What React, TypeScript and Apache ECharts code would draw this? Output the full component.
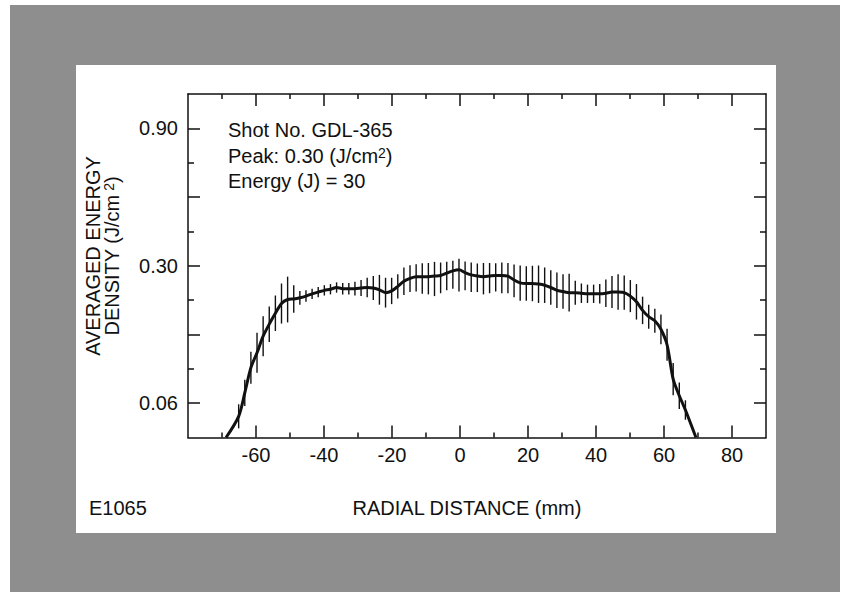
import React, { useEffect, useRef } from "react";
import * as echarts from "echarts";

// Radial distance (mm) of each averaged sample
const radialDistance = [
  -68.8, -65.1, -63.3, -61.5, -59.7, -57.9, -56.1, -54.3, -52.5, -50.7, -48.9, -47.1, -45.3, -43.5,
  -41.7, -39.9, -38.1, -36.3, -34.5, -32.7, -30.9, -29.1, -27.3, -25.5, -23.7, -21.9, -20.1, -18.3,
  -16.5, -14.7, -12.9, -11.1, -9.3, -7.5, -5.7, -3.9, -2.1, -0.3, 1.5, 3.3, 5.1, 6.9, 8.7, 10.5,
  12.3, 14.1, 15.9, 17.7, 19.5, 21.3, 23.1, 24.9, 26.7, 28.5, 30.3, 32.1, 33.9, 35.7, 37.5, 39.3,
  41.1, 42.9, 44.7, 46.5, 48.3, 50.1, 51.9, 53.7, 55.5, 57.3, 59.1, 60.9, 62.7, 64.5, 66.3, 69.4,
];
// Averaged energy density (J/cm^2)
const energyDensity = [
  0.0, 0.037, 0.078, 0.122, 0.148, 0.177, 0.198, 0.217, 0.234, 0.241, 0.242, 0.244, 0.247, 0.251,
  0.254, 0.257, 0.259, 0.262, 0.26, 0.26, 0.26, 0.261, 0.262, 0.261, 0.258, 0.253, 0.256, 0.264,
  0.273, 0.278, 0.281, 0.281, 0.281, 0.282, 0.283, 0.287, 0.291, 0.293, 0.288, 0.284, 0.282, 0.281,
  0.282, 0.283, 0.283, 0.282, 0.275, 0.27, 0.269, 0.269, 0.268, 0.266, 0.262, 0.257, 0.255, 0.253,
  0.253, 0.252, 0.251, 0.251, 0.251, 0.252, 0.254, 0.254, 0.253, 0.247, 0.237, 0.222, 0.211, 0.204,
  0.189, 0.162, 0.102, 0.073, 0.048, 0.0,
];
// Half-length of the error bar (J/cm^2)
const errorHalfWidth = [
  0, 0.021, 0.023, 0.028, 0.035, 0.035, 0.031, 0.031, 0.035, 0.04, 0.024, 0.012, 0.01, 0.009, 0.009,
  0.009, 0.009, 0.009, 0.01, 0.01, 0.012, 0.014, 0.017, 0.021, 0.026, 0.026, 0.023, 0.021, 0.024,
  0.024, 0.026, 0.03, 0.031, 0.035, 0.031, 0.03, 0.031, 0.038, 0.031, 0.03, 0.028, 0.031, 0.03,
  0.028, 0.031, 0.03, 0.03, 0.031, 0.03, 0.031, 0.033, 0.031, 0.03, 0.031, 0.03, 0.033, 0.021,
  0.017, 0.016, 0.016, 0.017, 0.024, 0.028, 0.031, 0.03, 0.028, 0.031, 0.024, 0.021, 0.021, 0.026,
  0.028, 0.028, 0.023, 0.017, 0,
];

const xMajorTicks = [-60, -40, -20, 0, 20, 40, 60, 80];
const xMinorTicks = [-70, -50, -30, -10, 10, 30, 50, 70];
const yLabelValues = [0.06, 0.3, 0.9];
const yMajorTickValues = [0.06, 0.18, 0.3, 0.6, 0.9];
const yMinorTickValues = [0.12, 0.24, 0.45, 0.75];

const annotationLines = ["Shot No. GDL-365", "Peak: 0.30 (J/cm{sup|2})", "Energy (J) = 30"];

// The printed ordinate: 0.06 per division up to 0.30, 0.15 per division above.
const toAxis = (v: number) => (v <= 0.3 ? v / 0.06 : 5 + (v - 0.3) / 0.15);
const fromAxis = (u: number) => (u <= 5 ? u * 0.06 : 0.3 + (u - 5) * 0.15);

const FONT = "'Liberation Sans', Arial, Helvetica, sans-serif";
const INK = "#111";

export default function App() {
  const ref = useRef<HTMLDivElement>(null);
  useEffect(() => {
    if (!ref.current) return;
    const chart = echarts.init(ref.current, undefined, { renderer: "svg" });

    const lineStyle = { color: INK, width: 1.5 };
    const baseX = { type: "value", min: -80, max: 90, splitLine: { show: false } };
    const baseY = { type: "value", min: 0, max: 10, splitLine: { show: false } };

    const xAxes = [
      {
        ...baseX,
        position: "bottom",
        axisLine: { show: true, onZero: false, lineStyle },
        axisTick: { show: true, inside: true, length: 12, customValues: xMajorTicks, lineStyle },
        axisLabel: {
          show: true,
          customValues: xMajorTicks,
          margin: 7,
          color: INK,
          fontSize: 20,
          fontFamily: FONT,
          formatter: (v: number) => String(v),
        },
      },
      {
        ...baseX,
        position: "bottom",
        axisLine: { show: false, onZero: false },
        axisTick: { show: true, inside: true, length: 5, customValues: xMinorTicks, lineStyle },
        axisLabel: { show: false },
      },
      {
        ...baseX,
        position: "top",
        axisLine: { show: true, onZero: false, lineStyle },
        axisTick: { show: true, inside: true, length: 12, customValues: xMajorTicks, lineStyle },
        axisLabel: { show: false },
      },
      {
        ...baseX,
        position: "top",
        axisLine: { show: false, onZero: false },
        axisTick: { show: true, inside: true, length: 5, customValues: xMinorTicks, lineStyle },
        axisLabel: { show: false },
      },
    ];

    const yMajorU = yMajorTickValues.map(toAxis);
    const yMinorU = yMinorTickValues.map(toAxis);
    const yAxes = [
      {
        ...baseY,
        position: "left",
        axisLine: { show: true, onZero: false, lineStyle },
        axisTick: { show: true, inside: true, length: 12, customValues: yMajorU, lineStyle },
        axisLabel: {
          show: true,
          customValues: yLabelValues.map(toAxis),
          margin: 10,
          color: INK,
          fontSize: 20,
          fontFamily: FONT,
          formatter: (u: number) => fromAxis(u).toFixed(2),
        },
      },
      {
        ...baseY,
        position: "left",
        axisLine: { show: false, onZero: false },
        axisTick: { show: true, inside: true, length: 6, customValues: yMinorU, lineStyle },
        axisLabel: { show: false },
      },
      {
        ...baseY,
        position: "right",
        axisLine: { show: true, onZero: false, lineStyle },
        axisTick: { show: true, inside: true, length: 12, customValues: yMajorU, lineStyle },
        axisLabel: { show: false },
      },
      {
        ...baseY,
        position: "right",
        axisLine: { show: false, onZero: false },
        axisTick: { show: true, inside: true, length: 6, customValues: yMinorU, lineStyle },
        axisLabel: { show: false },
      },
    ];

    const barData = radialDistance.map((x, i) => [
      x,
      toAxis(energyDensity[i] - errorHalfWidth[i]),
      toAxis(energyDensity[i] + errorHalfWidth[i]),
    ]);
    const lineData = radialDistance.map((x, i) => [x, toAxis(energyDensity[i])]);

    const textBase = { fontSize: 20, fontFamily: FONT, fill: INK };
    const sup = { sup: { fontSize: 14, fontFamily: FONT, fill: INK, verticalAlign: "top" } };

    chart.setOption({
      animation: false,
      backgroundColor: "#ffffff",
      grid: { left: 188, right: 78, top: 94, height: 343.5 },
      xAxis: xAxes,
      yAxis: yAxes,
      series: [
        {
          type: "custom",
          coordinateSystem: "cartesian2d",
          xAxisIndex: 0,
          yAxisIndex: 0,
          data: barData,
          z: 3,
          renderItem: (params: any, api: any) => {
            const lo = api.value(1);
            const hi = api.value(2);
            if (hi - lo <= 0) return null;
            const p1 = api.coord([api.value(0), lo]);
            const p2 = api.coord([api.value(0), hi]);
            return {
              type: "line",
              shape: { x1: p1[0], y1: p1[1], x2: p2[0], y2: p2[1] },
              style: { stroke: INK, lineWidth: 1.4 },
            };
          },
        },
        {
          type: "line",
          xAxisIndex: 0,
          yAxisIndex: 0,
          data: lineData,
          smooth: 0.3,
          showSymbol: false,
          z: 4,
          lineStyle: { color: INK, width: 3 },
        },
      ],
      graphic: [
        {
          type: "rect",
          silent: true,
          z: -20,
          shape: { x: 10, y: 5, width: 830, height: 587 },
          style: { fill: "#8e8e8e" },
        },
        {
          type: "rect",
          silent: true,
          z: -19,
          shape: { x: 76, y: 65, width: 700, height: 468 },
          style: { fill: "#ffffff" },
        },
        ...annotationLines.map((t, i) => ({
          type: "text",
          x: 228,
          y: [129.5, 155.5, 180.5][i],
          style: { ...textBase, text: t, rich: sup, align: "left", verticalAlign: "middle" },
        })),
        {
          type: "text",
          x: 93,
          y: 256,
          rotation: Math.PI / 2,
          style: { ...textBase, text: "AVERAGED ENERGY", align: "center", verticalAlign: "middle" },
        },
        {
          type: "text",
          x: 112,
          y: 256,
          rotation: Math.PI / 2,
          style: {
            ...textBase,
            text: "DENSITY (J/cm{sup| 2})",
            rich: sup,
            align: "center",
            verticalAlign: "middle",
          },
        },
        {
          type: "text",
          x: 89,
          y: 508,
          style: { ...textBase, text: "E1065", align: "left", verticalAlign: "middle" },
        },
        {
          type: "text",
          x: 467,
          y: 508,
          style: { ...textBase, text: "RADIAL DISTANCE (mm)", align: "center", verticalAlign: "middle" },
        },
      ],
    });
    return () => chart.dispose();
  }, []);
  return (
    <div
      ref={ref}
      style={{ position: "fixed", left: 0, top: 0, width: 844, height: 592 }}
    />
  );
}
